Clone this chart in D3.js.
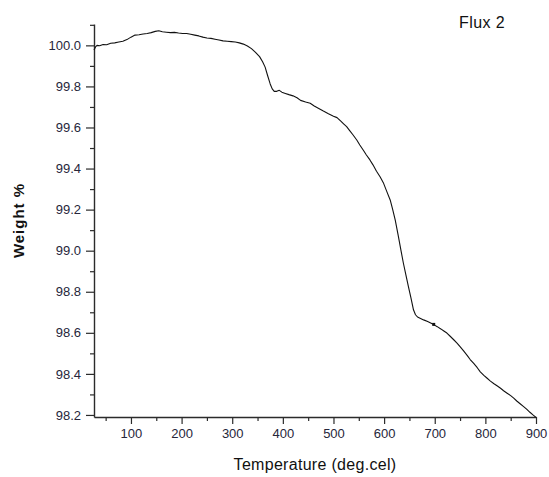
<!DOCTYPE html>
<html>
<head>
<meta charset="utf-8">
<script src="https://cdn.jsdelivr.net/npm/d3@7"></script>
<style>
  html, body { margin: 0; padding: 0; background: #fff; }
  svg { display: block; font-family: "Liberation Sans", Arial, sans-serif; }
</style>
</head>
<body>
<svg id="chart" width="549" height="477"></svg>
<script>
// TGA trace: temperature (deg C) vs. residual weight (%)
const temperature = [
  27, 30, 33, 38, 45, 52, 60, 68, 76, 84, 92, 100, 108, 116, 124, 132, 140, 148, 155, 162,
  170, 178, 186, 194, 202, 210, 218, 226, 234, 242, 250, 258, 266, 274, 282, 290, 298, 306, 314, 322,
  330, 338, 346, 354, 360, 365, 370, 375, 379, 383, 388, 393, 398, 405, 412, 420, 428, 435, 445, 454,
  462, 470, 480, 490, 500, 507, 515, 520, 526, 532, 538, 546, 552, 559, 565, 572, 578, 585, 592, 599,
  605, 612, 617, 622, 628, 633, 638, 643, 648, 653, 658, 662, 666, 672, 678, 686, 692, 698, 705, 712,
  718, 724, 731, 738, 744, 750, 757, 764, 770, 777, 784, 790, 797, 803, 810, 817, 823, 830, 836, 843,
  850, 856, 862, 868, 875, 882, 888, 894, 900
];
const weight = [
  99.977, 99.992, 100.000, 99.998, 100.004, 100.003, 100.010, 100.012, 100.016, 100.020, 100.028, 100.040, 100.050, 100.052, 100.055, 100.058, 100.062, 100.068, 100.071, 100.066,
  100.064, 100.062, 100.063, 100.060, 100.058, 100.058, 100.054, 100.050, 100.046, 100.040, 100.036, 100.034, 100.030, 100.026, 100.022, 100.020, 100.018, 100.016, 100.012, 100.006,
  99.997, 99.984, 99.966, 99.945, 99.920, 99.894, 99.852, 99.812, 99.788, 99.776, 99.776, 99.781, 99.772, 99.766, 99.760, 99.754, 99.745, 99.732, 99.724, 99.718,
  99.705, 99.694, 99.680, 99.667, 99.655, 99.648, 99.630, 99.618, 99.604, 99.585, 99.566, 99.539, 99.515, 99.489, 99.466, 99.442, 99.418, 99.387, 99.360, 99.328,
  99.290, 99.247, 99.200, 99.149, 99.072, 99.005, 98.940, 98.882, 98.825, 98.770, 98.712, 98.688, 98.677, 98.670, 98.663, 98.655, 98.648, 98.640, 98.630, 98.619,
  98.609, 98.599, 98.582, 98.565, 98.550, 98.533, 98.512, 98.490, 98.470, 98.451, 98.430, 98.410, 98.393, 98.380, 98.365, 98.352, 98.342, 98.330, 98.318, 98.306,
  98.294, 98.282, 98.268, 98.256, 98.242, 98.227, 98.213, 98.200, 98.188
];

// Axis ticks
const xMajorTicks = [100, 200, 300, 400, 500, 600, 700, 800, 900];
const xMinorTicks = [50, 150, 250, 350, 450, 550, 650, 750, 850];
const yMajorTicks = [98.2, 98.4, 98.6, 98.8, 99.0, 99.2, 99.4, 99.6, 99.8, 100.0];
const yMinorTicks = [98.3, 98.5, 98.7, 98.9, 99.1, 99.3, 99.5, 99.7, 99.9, 100.1];

// Small blob on the trace
const blipT = [698];
const blipW = [98.641];

const seriesName = "Flux 2";
const xTitle = "Temperature (deg.cel)";
const yTitle = "Weight %";

const svg = d3.select("#chart");
const plotLeft = 94, plotRight = 536, plotTop = 24, plotBottom = 417;

const x = d3.scaleLinear().domain([27, 900]).range([plotLeft, plotRight]);
const y = d3.scaleLinear().domain([98.19, 100.104]).range([plotBottom, plotTop]);

const axisColor = "#2b2b2b";
const labelColor = "#26263a";

// X axis
const gx = svg.append("g").attr("transform", `translate(0,${plotBottom})`);
gx.call(d3.axisBottom(x).tickValues(xMinorTicks).tickSize(4).tickFormat(""));
gx.call(g => g.selectAll(".domain").remove());
svg.append("g").attr("transform", `translate(0,${plotBottom})`)
  .call(d3.axisBottom(x).tickValues(xMajorTicks).tickSize(7).tickSizeOuter(0).tickPadding(5).tickFormat(d3.format("d")));

// Y axis
const gy = svg.append("g").attr("transform", `translate(${plotLeft},0)`);
gy.call(d3.axisLeft(y).tickValues(yMinorTicks).tickSize(4).tickFormat(""));
gy.call(g => g.selectAll(".domain").remove());
svg.append("g").attr("transform", `translate(${plotLeft},0)`)
  .call(d3.axisLeft(y).tickValues(yMajorTicks).tickSize(8).tickSizeOuter(0).tickPadding(5).tickFormat(d3.format(".1f")));

svg.selectAll(".domain").attr("stroke", axisColor).attr("stroke-width", 1.4);
svg.selectAll(".tick line").attr("stroke", axisColor).attr("stroke-width", 1.2);
svg.selectAll(".tick text")
  .attr("fill", labelColor)
  .attr("font-size", 13)
  .attr("font-family", "'Liberation Sans', Arial, sans-serif");

// Trace
const pts = temperature.map((t, i) => [t, weight[i]]);
const line = d3.line().x(d => x(d[0])).y(d => y(d[1]));
svg.append("path")
  .datum(pts)
  .attr("fill", "none")
  .attr("stroke", "#111")
  .attr("stroke-width", 1.1)
  .attr("stroke-linejoin", "round")
  .attr("d", line);

svg.selectAll("rect.blip")
  .data(blipT.map((t, i) => [t, blipW[i]]))
  .enter().append("rect")
  .attr("class", "blip")
  .attr("x", d => x(d[0]) - 1.5)
  .attr("y", d => y(d[1]) - 1.5)
  .attr("width", 3)
  .attr("height", 3)
  .attr("fill", "#111");

// Titles
svg.append("text")
  .attr("x", (plotLeft + plotRight) / 2)
  .attr("y", 470)
  .attr("text-anchor", "middle")
  .attr("font-size", 16)
  .attr("letter-spacing", 0.3)
  .attr("fill", "#111")
  .text(xTitle);

svg.append("text")
  .attr("transform", `translate(24,${(plotTop + plotBottom) / 2}) rotate(-90)`)
  .attr("text-anchor", "middle")
  .attr("font-size", 15)
  .attr("font-weight", "bold")
  .attr("letter-spacing", 1)
  .attr("fill", "#111")
  .text(yTitle);

svg.append("text")
  .attr("x", 459)
  .attr("y", 28)
  .attr("font-size", 16)
  .attr("letter-spacing", 0.4)
  .attr("fill", "#111")
  .text(seriesName);
</script>
</body>
</html>
